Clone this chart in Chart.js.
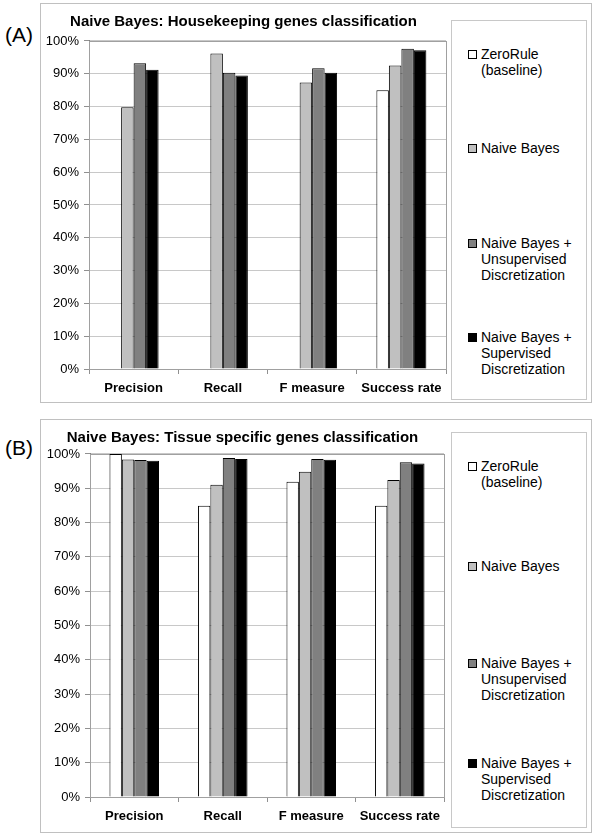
<!DOCTYPE html>
<html>
<head>
<meta charset="utf-8">
<script src="https://cdn.jsdelivr.net/npm/chart.js@4.4.1/dist/chart.umd.min.js"></script>
<style>
  body { margin: 0; background: #fff; font-family: "Liberation Sans", Arial, sans-serif; }
  .panel { position: absolute; box-sizing: border-box; border: 1px solid #c0c0c0; }
  .legendBox { position: absolute; box-sizing: border-box; border: 1px solid #c8c8c8; }
  .item { position: absolute; left: 481px; font-size: 14px; line-height: 16px; color: #000; white-space: nowrap; }
  .mark { position: absolute; left: 468px; width: 9px; height: 9px; box-sizing: border-box; border: 1px solid #000; }
  .tag { position: absolute; left: 5px; font-size: 21px; line-height: 24px; }
  canvas { position: absolute; }
</style>
</head>
<body>
<div class="tag" style="top:23px">(A)</div>
<div class="tag" style="top:436px">(B)</div>
<div class="panel" style="left:40px;top:3px;width:552px;height:400px"></div>
<div class="panel" style="left:40px;top:419px;width:552px;height:414px"></div>
<canvas id="chartA" width="409" height="398" style="left:41px;top:4px"></canvas>
<canvas id="chartB" width="409" height="412" style="left:41px;top:420px"></canvas>
<div class="legendBox" style="left:451px;top:20px;width:136px;height:380px"></div>
<div class="legendBox" style="left:451px;top:432px;width:136px;height:396px"></div>
<div id="legends"></div>
<script>
const categories = ['Precision', 'Recall', 'F measure', 'Success rate']
const seriesNames = ['ZeroRule\n(baseline)', 'Naive Bayes', 'Naive Bayes +\nUnsupervised\nDiscretization', 'Naive Bayes +\nSupervised\nDiscretization']
const seriesColors = ['#ffffff', '#c0c0c0', '#808080', '#000000']
const tickValues = [0, 0.1, 0.2, 0.3, 0.4, 0.5, 0.6, 0.7, 0.8, 0.9, 1.0]

// (A) housekeeping genes
const zeroRuleA = [null, null, null, 0.850]
const naiveBayesA = [0.798, 0.962, 0.873, 0.925]
const unsupA = [0.932, 0.903, 0.917, 0.976]
const supA = [0.912, 0.895, 0.903, 0.972]

// (B) tissue specific genes
const zeroRuleB = [1.000, 0.849, 0.919, 0.849]
const naiveBayesB = [0.984, 0.910, 0.948, 0.924]
const unsupB = [0.982, 0.988, 0.985, 0.976]
const supB = [0.980, 0.985, 0.983, 0.972]

const FONT = '"Liberation Sans", Arial, sans-serif'

// frame around the plot area
const frame = {
  id: 'frame',
  beforeDatasetsDraw(chart) {
    const a = chart.chartArea
    const ctx = chart.ctx
    ctx.save()
    ctx.strokeStyle = '#a0a0a0'
    ctx.lineWidth = 1
    ctx.strokeRect(Math.round(a.left) + 0.5, Math.round(a.top) + 0.5, Math.round(a.right - a.left), Math.round(a.bottom - a.top))
    ctx.restore()
  }
}

function drawChart(id, title, values, pad, yWidth, xHeight) {
  const ctx = document.getElementById(id).getContext('2d')
  return new Chart(ctx, {
    type: 'bar',
    data: {
      labels: categories,
      datasets: values.map((v, i) => ({
        label: seriesNames[i],
        data: v,
        backgroundColor: seriesColors[i],
        borderColor: '#000000',
        borderWidth: 1,
        borderSkipped: 'bottom',
        categoryPercentage: 0.56,
        barPercentage: 1.0
      }))
    },
    options: {
      responsive: false,
      animation: false,
      layout: { padding: { left: 0, right: pad.right, top: 0, bottom: 0 } },
      plugins: {
        legend: { display: false },
        tooltip: { enabled: false },
        title: {
          display: true,
          text: title,
          color: '#000',
          font: { family: FONT, size: 15, weight: 'bold', lineHeight: 1.15 },
          padding: { top: pad.titleTop, bottom: pad.titleBottom }
        }
      },
      scales: {
        x: {
          afterFit(scale) { scale.height = xHeight },
          grid: { display: true, drawOnChartArea: false, drawTicks: true, tickLength: 5, offset: true, color: '#909090' },
          border: { display: true, color: '#808080' },
          ticks: { color: '#000', padding: 7, font: { family: FONT, size: 13, weight: 'bold' } }
        },
        y: {
          min: 0,
          max: 1,
          afterFit(scale) { scale.width = yWidth },
          afterBuildTicks(scale) { scale.ticks = tickValues.map(v => ({ value: v })) },
          grid: { color: '#c8c8c8', drawTicks: true, tickLength: 5, tickColor: '#909090' },
          border: { display: true, color: '#808080' },
          ticks: {
            color: '#000',
            padding: 5,
            font: { family: FONT, size: 13 },
            callback: v => Math.round(v * 100) + '%'
          }
        }
      }
    },
    plugins: [frame]
  })
}

drawChart('chartA', 'Naive Bayes: Housekeeping genes classification',
  [zeroRuleA, naiveBayesA, unsupA, supA],
  { right: 4, titleTop: 9, titleBottom: 10.7 }, 48, 33)
drawChart('chartB', 'Naive Bayes: Tissue specific genes classification',
  [zeroRuleB, naiveBayesB, unsupB, supB],
  { right: 6, titleTop: 9, titleBottom: 7.7 }, 49, 35)

// html legends, one per panel
const legendTops = [[54, 148, 243, 337], [466, 566, 663, 763]]
const holder = document.getElementById('legends')
legendTops.forEach(tops => {
  tops.forEach((c, i) => {
    const m = document.createElement('div')
    m.className = 'mark'
    m.style.top = (c - 4) + 'px'
    m.style.background = seriesColors[i]
    holder.appendChild(m)
    const t = document.createElement('div')
    t.className = 'item'
    t.style.top = (c - 8) + 'px'
    t.innerHTML = seriesNames[i].split('\n').join('<br>')
    holder.appendChild(t)
  })
})
</script>
</body>
</html>
